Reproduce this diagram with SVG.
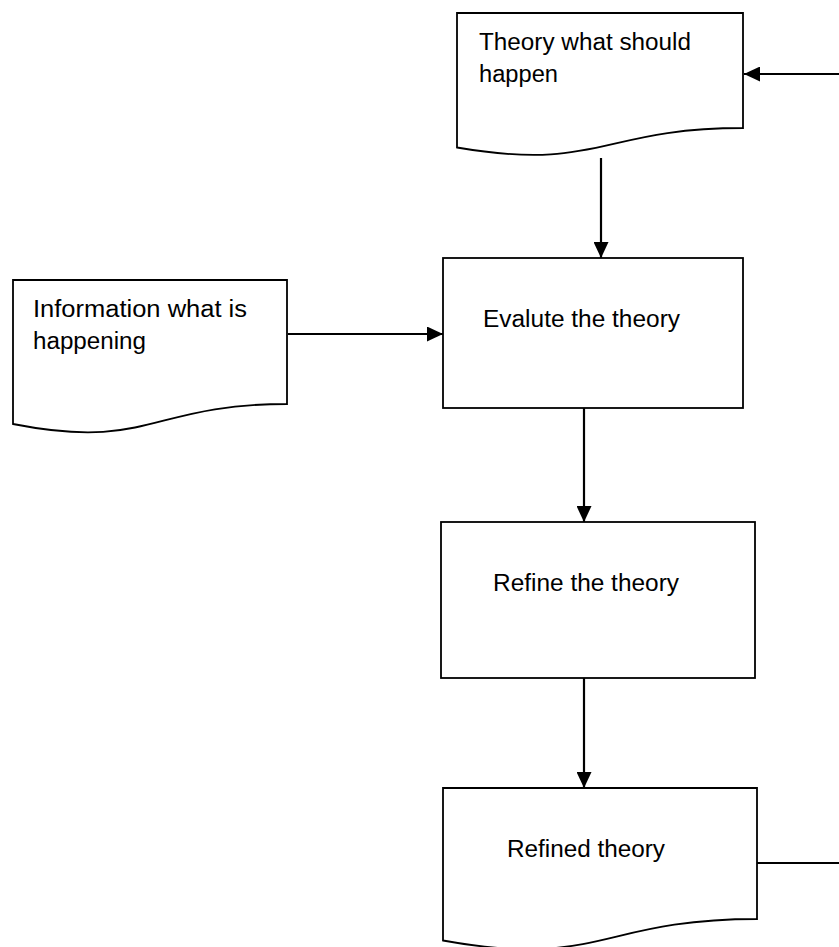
<svg xmlns="http://www.w3.org/2000/svg" width="839" height="947" viewBox="0 0 839 947">
  <defs>
    <marker id="arrow" viewBox="0 0 16 15" refX="16" refY="7.5" markerWidth="16" markerHeight="15" markerUnits="userSpaceOnUse" orient="auto">
      <path d="M0,0 L16,7.5 L0,15 Z" fill="#000"/>
    </marker>
    <style>
      .shape { fill: #fff; stroke: #000; stroke-width: 1.8; }
      .edge { fill: none; stroke: #000; stroke-width: 2.2; }
      .label { font-family: "Liberation Sans", Arial, sans-serif; font-size: 23px; fill: #000; }
    </style>
  </defs>
  <rect width="839" height="947" fill="#fff"/>

  <g id="connectors">
    <line class="edge" x1="839" y1="74" x2="744" y2="74" marker-end="url(#arrow)"/>
    <line class="edge" x1="601" y1="158" x2="601" y2="258" marker-end="url(#arrow)"/>
    <line class="edge" x1="288" y1="334" x2="443" y2="334" marker-end="url(#arrow)"/>
    <line class="edge" x1="584" y1="408" x2="584" y2="522" marker-end="url(#arrow)"/>
    <line class="edge" x1="584" y1="678" x2="584" y2="788" marker-end="url(#arrow)"/>
    <line class="edge" x1="757" y1="863" x2="839" y2="863"/>
  </g>

  <g id="theory-doc">
    <path class="shape" d="M457,13 H743 V128 C600,128 600,172 457,147.5 Z"/>
    <text class="label" x="479" y="50" textLength="212" lengthAdjust="spacingAndGlyphs">Theory what should</text>
    <text class="label" x="479" y="82" textLength="79" lengthAdjust="spacingAndGlyphs">happen</text>
  </g>

  <g id="information-doc">
    <path class="shape" d="M13,280 H287 V404 C150,404 150,451 13,424 Z"/>
    <text class="label" x="33" y="317" textLength="214" lengthAdjust="spacingAndGlyphs">Information what is</text>
    <text class="label" x="33" y="349" textLength="113" lengthAdjust="spacingAndGlyphs">happening</text>
  </g>

  <g id="evaluate">
    <rect class="shape" x="443" y="258" width="300" height="150"/>
    <text class="label" x="483" y="327" textLength="197" lengthAdjust="spacingAndGlyphs">Evalute the theory</text>
  </g>

  <g id="refine">
    <rect class="shape" x="441" y="522" width="314" height="156"/>
    <text class="label" x="493" y="591" textLength="186" lengthAdjust="spacingAndGlyphs">Refine the theory</text>
  </g>

  <g id="refined-doc">
    <path class="shape" d="M443,788 H757 V919 C600,919 600,969 443,940.5 Z"/>
    <text class="label" x="507" y="857" textLength="158" lengthAdjust="spacingAndGlyphs">Refined theory</text>
  </g>
</svg>
